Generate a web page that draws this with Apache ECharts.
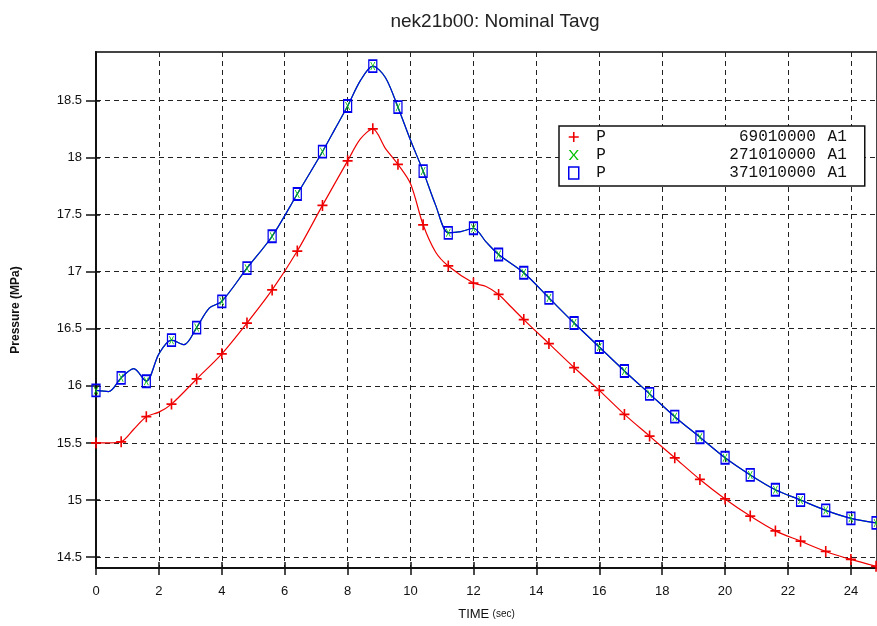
<!DOCTYPE html>
<html>
<head>
<meta charset="utf-8">
<script src="https://cdn.jsdelivr.net/npm/echarts@6/dist/echarts.min.js"></script>
<style>
html,body{margin:0;padding:0;background:#fff;}
#chart{width:877px;height:626px;}
</style>
</head>
<body>
<div id="chart"></div>
<script>
// ---- data ----
const titleText = 'nek21b00: Nominal Tavg';
const xTicks = [0, 2, 4, 6, 8, 10, 12, 14, 16, 18, 20, 22, 24];
const yTicks = [14.5, 15, 15.5, 16, 16.5, 17, 17.5, 18, 18.5];

const markerX = [0, 0.8, 1.6, 2.4, 3.2, 4.0, 4.8, 5.6, 6.4, 7.2, 8.0, 8.8, 9.6, 10.4, 11.2, 12.0,
                 12.8, 13.6, 14.4, 15.2, 16.0, 16.8, 17.6, 18.4, 19.2, 20.0, 20.8, 21.6, 22.4, 23.2, 24.0, 24.8];

const redY = [15.50, 15.51, 15.73, 15.84, 16.06, 16.28, 16.55, 16.84, 17.18, 17.58, 17.97, 18.25, 17.94, 17.41, 17.05, 16.90,
              16.80, 16.58, 16.37, 16.16, 15.96, 15.75, 15.56, 15.37, 15.18, 15.01, 14.86, 14.73, 14.64, 14.55, 14.48, 14.42];
const greenY = [15.96, 16.07, 16.04, 16.40, 16.51, 16.74, 17.03, 17.31, 17.68, 18.05, 18.45, 18.80, 18.44, 17.88, 17.34, 17.38,
                17.15, 16.99, 16.77, 16.55, 16.34, 16.13, 15.93, 15.73, 15.55, 15.37, 15.22, 15.09, 15.00, 14.91, 14.84, 14.80];
const blueY = [15.96, 16.07, 16.04, 16.40, 16.51, 16.74, 17.03, 17.31, 17.68, 18.05, 18.45, 18.80, 18.44, 17.88, 17.34, 17.38,
               17.15, 16.99, 16.77, 16.55, 16.34, 16.13, 15.93, 15.73, 15.55, 15.37, 15.22, 15.09, 15.00, 14.91, 14.84, 14.80];

// extra curve points read between the markers
const redExtraX = [0.4, 1.2, 2.0, 8.4, 9.2, 10.0, 10.8, 12.4, 13.2];
const redExtraY = [15.50, 15.62, 15.77, 18.16, 18.08, 17.77, 17.17, 16.87, 16.69];
const blueExtraX = [0.4, 1.2, 2.0, 2.8, 3.6, 7.6, 8.4, 9.2, 10.0, 10.8, 11.6, 12.4];
const blueExtraY = [15.95, 16.15, 16.28, 16.36, 16.68, 18.25, 18.67, 18.70, 18.15, 17.58, 17.35, 17.26];

const seriesNames = ['P 69010000 A1', 'P 271010000 A1', 'P 371010000 A1'];
const legendCodes = ['69010000', '271010000', '371010000'];

// ---- build ----
function pairs(xs, ys) { return xs.map((x, i) => [x, ys[i]]); }
function merged(xs, ys, ex, ey) {
  return pairs(xs, ys).concat(pairs(ex, ey)).sort((a, b) => a[0] - b[0]);
}

const RED = '#ee0000', GREEN = '#00c000', BLUE = '#0000ee';
const plusPath = 'path://M4.2,0h1.6v10h-1.6zM0,4.2h10v1.6h-10z';
const xPath = 'path://M0,0L1.8,0L5,4.2L8.2,0L10,0L5.9,5L10,10L8.2,10L5,5.8L1.8,10L0,10L4.1,5Z';

const chart = echarts.init(document.getElementById('chart'), null, { renderer: 'canvas' });

const tickLabelStyle = { color: '#111', fontFamily: 'Liberation Sans, Arial, sans-serif', fontSize: 13 };
const gridLine = { show: true, lineStyle: { color: '#222', width: 1, type: [5, 4] } };
const monoRich = { lineHeight: 18, fontFamily: 'Liberation Mono, monospace', fontSize: 16, color: '#111' };

const option = {
  animation: false,
  backgroundColor: '#fff',
  title: {
    text: titleText,
    left: 490, top: 7, textAlign: 'center',
    textStyle: { fontFamily: 'Liberation Sans, Arial, sans-serif', fontSize: 19, fontWeight: 'normal', color: '#222' }
  },
  grid: {
    left: 96, top: 52, right: -2, bottom: 53,
    show: true, borderColor: '#444', borderWidth: 2, backgroundColor: 'transparent'
  },
  legend: {
    left: 559, top: 126, orient: 'vertical',
    backgroundColor: '#fff', borderColor: '#111', borderWidth: 1.5,
    padding: [2, 18, 4, 9],
    itemGap: 0, itemWidth: 10, itemHeight: 12,
    data: [
      { name: seriesNames[0], icon: plusPath, itemStyle: { color: RED } },
      { name: seriesNames[1], icon: xPath, itemStyle: { color: GREEN } },
      { name: seriesNames[2], icon: 'rect', itemStyle: { color: 'transparent', borderColor: BLUE, borderWidth: 1.5 } }
    ],
    formatter: function (name) {
      const i = seriesNames.indexOf(name);
      return '{p|P}{n|' + legendCodes[i] + '}{a|A1}';
    },
    textStyle: {
      fontFamily: 'Liberation Mono, DejaVu Sans Mono, monospace', fontSize: 16, color: '#111', lineHeight: 18,
      rich: {
        p: Object.assign({ width: 22, align: 'right' }, monoRich),
        n: Object.assign({ width: 210, align: 'right' }, monoRich),
        a: Object.assign({ width: 31, align: 'right' }, monoRich)
      }
    }
  },
  xAxis: [
    {
      type: 'value', position: 'bottom', min: 0, max: 24.83,
      name: '{a|TIME} {b|(sec)}', nameLocation: 'middle', nameGap: 40,
      nameTextStyle: {
        rich: {
          a: { fontFamily: 'Liberation Sans, Arial, sans-serif', fontSize: 13, color: '#111' },
          b: { fontFamily: 'Liberation Sans, Arial, sans-serif', fontSize: 10, color: '#111' }
        }
      },
      axisLine: { show: true, onZero: false, lineStyle: { color: '#111', width: 2 } },
      axisTick: { show: true, inside: false, length: 7, customValues: xTicks, lineStyle: { color: '#111', width: 1.5 } },
      axisLabel: Object.assign({ customValues: xTicks, margin: 17 }, tickLabelStyle),
      splitLine: gridLine
    },
    {
      type: 'value', position: 'bottom', min: 0, max: 24.83,
      axisLine: { show: false, onZero: false },
      axisTick: { show: true, inside: true, length: 6, customValues: xTicks, lineStyle: { color: '#111', width: 1.5 } },
      axisLabel: { show: false },
      splitLine: { show: false }
    }
  ],
  yAxis: [
    {
      type: 'value', position: 'left', min: 14.405, max: 18.923,
      name: 'Pressure (MPa)', nameLocation: 'middle', nameGap: 74, nameRotate: 90,
      nameTextStyle: { fontFamily: 'Liberation Sans, Arial, sans-serif', fontSize: 12, fontWeight: 'bold', color: '#111' },
      axisLine: { show: true, onZero: false, lineStyle: { color: '#111', width: 2 } },
      axisTick: { show: true, inside: false, length: 10, customValues: yTicks, lineStyle: { color: '#111', width: 1.5 } },
      axisLabel: Object.assign({ customValues: yTicks, margin: 14 }, tickLabelStyle),
      splitLine: gridLine
    },
    {
      type: 'value', position: 'left', min: 14.405, max: 18.923,
      axisLine: { show: false, onZero: false },
      axisTick: { show: true, inside: true, length: 4, customValues: yTicks, lineStyle: { color: '#111', width: 1.5 } },
      axisLabel: { show: false },
      splitLine: { show: false }
    }
  ],
  series: [
    {
      name: 'red line', type: 'line', smooth: 0.3, showSymbol: false, z: 2,
      data: merged(markerX, redY, redExtraX, redExtraY),
      lineStyle: { color: RED, width: 1.2 }, itemStyle: { color: RED }
    },
    {
      name: seriesNames[0], type: 'scatter', z: 3,
      data: pairs(markerX, redY),
      symbol: plusPath, symbolSize: [10, 11],
      itemStyle: { color: RED, opacity: 1 }
    },
    {
      name: 'green line', type: 'line', smooth: 0.3, showSymbol: false, z: 2,
      data: merged(markerX, greenY, blueExtraX, blueExtraY),
      lineStyle: { color: GREEN, width: 1.2 }
    },
    {
      name: 'blue line', type: 'line', smooth: 0.3, showSymbol: false, z: 3,
      data: merged(markerX, blueY, blueExtraX, blueExtraY),
      lineStyle: { color: BLUE, width: 1.2 }
    },
    {
      name: seriesNames[1], type: 'scatter', z: 4,
      data: pairs(markerX, greenY),
      symbol: xPath, symbolSize: [5, 8],
      itemStyle: { color: GREEN, opacity: 1 }
    },
    {
      name: seriesNames[2], type: 'scatter', z: 5,
      data: pairs(markerX, blueY),
      symbol: 'rect', symbolSize: [8, 12],
      itemStyle: { color: 'rgba(255,255,255,0)', borderColor: BLUE, borderWidth: 1.5, opacity: 1 }
    }
  ]
};
chart.setOption(option);
</script>
</body>
</html>
